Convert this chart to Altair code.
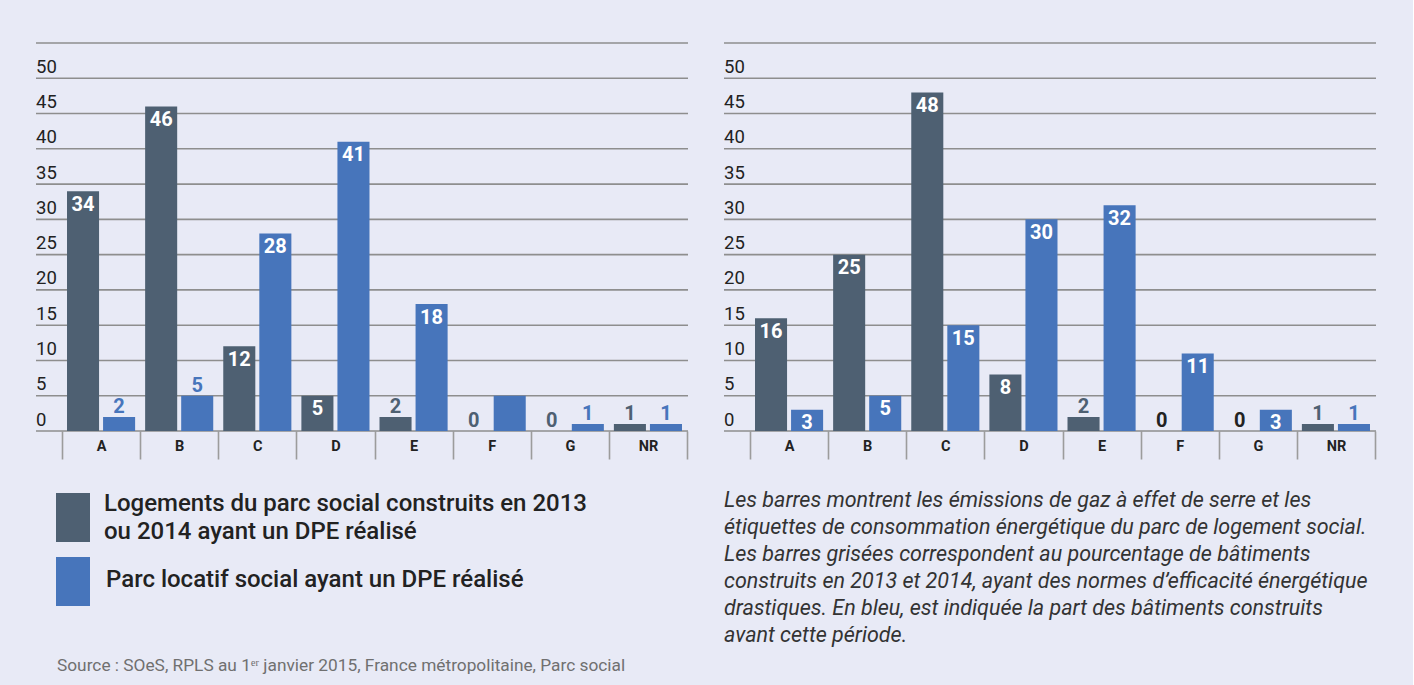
import altair as alt
import pandas as pd

# ---------------- data ----------------
categories = ["A", "B", "C", "D", "E", "F", "G", "NR"]
series_keys = ["g", "b"]
legend_grey = "Logements du parc social construits en 2013\nou 2014 ayant un DPE réalisé"
legend_blue = "Parc locatif social ayant un DPE réalisé"

left_grey = [34, 46, 12, 5, 2, 0, 0, 1]
left_blue = [2, 5, 28, 41, 18, 5, 1, 1]
right_grey = [16, 25, 48, 8, 2, 0, 0, 1]
right_blue = [3, 5, 15, 30, 32, 11, 3, 1]

grid_values = [0, 5, 10, 15, 20, 25, 30, 35, 40, 45, 50, 55]
y_label_values = [0, 5, 10, 15, 20, 25, 30, 35, 40, 45, 50]

source_text = "Source : SOeS, RPLS au 1ᵉʳ janvier 2015, France métropolitaine, Parc social"
note_text = ("Les barres montrent les émissions de gaz à effet de serre et les\n"
             "étiquettes de consommation énergétique du parc de logement social.\n"
             "Les barres grisées correspondent au pourcentage de bâtiments\n"
             "construits en 2013 et 2014, ayant des normes d’efficacité énergétique\n"
             "drastiques. En bleu, est indiquée la part des bâtiments construits\n"
             "avant cette période.")

# label placement per bar (styling): in = white inside, out = above, dark = above in black, none
left_grey_pos = ["in", "in", "in", "in", "out", "out", "out", "out"]
left_blue_pos = ["out", "out", "in", "in", "in", "none", "out", "out"]
right_grey_pos = ["in", "in", "in", "in", "out", "dark", "dark", "out"]
right_blue_pos = ["in", "in", "in", "in", "in", "in", "in", "out"]

# ---------------- style ----------------
GREY = "#4E6072"
BLUE = "#4775BB"
BG = "#E8EAF6"
GRID = "#8E8E8E"
TXT = "#222222"
FONT = "Roboto"
W, H = 625, 388
Y_SCALE = alt.Scale(domain=[0, 55], nice=False, zero=True)


def build_frame(grey, blue, gpos, bpos):
    rows = []
    for i, c in enumerate(categories):
        for key, vals, pos, col in (("g", grey, gpos, GREY), ("b", blue, bpos, BLUE)):
            p = pos[i]
            lc = "#FFFFFF" if p == "in" else (TXT if p == "dark" else col)
            rows.append({"cat": c, "s": key, "v": vals[i], "pos": p, "lc": lc})
    return pd.DataFrame(rows)


grid_df = pd.DataFrame({"t": grid_values})
ylab_df = pd.DataFrame({"t": y_label_values})


def panel(df, extras):
    base = alt.Chart(df)
    x = alt.X("cat:N", sort=categories,
              scale=alt.Scale(paddingInner=0, paddingOuter=0),
              axis=alt.Axis(title=None, domain=False, grid=False, tickBand="extent",
                            tickSize=28, tickColor="#9C9C9C", tickWidth=1.6,
                            labelFontSize=14.5, labelFontWeight="bold", labelColor=TXT,
                            labelFont=FONT, labelPadding=-13, labelBaseline="middle",
                            labelAngle=0))
    y = alt.Y("v:Q", scale=Y_SCALE, axis=None)
    xoff = alt.XOffset("s:N", sort=series_keys,
                       scale=alt.Scale(paddingInner=0.111, paddingOuter=0.139))

    grid = alt.Chart(grid_df).mark_rule(color=GRID, strokeWidth=1.6).encode(
        y=alt.Y("t:Q", scale=Y_SCALE, axis=None), x=alt.value(-26), x2=alt.value(W + 1))
    ylabels = alt.Chart(ylab_df).mark_text(
        font=FONT, fontSize=18.5, color=TXT, align="left", baseline="alphabetic",
        dy=-5.5).encode(y=alt.Y("t:Q", scale=Y_SCALE, axis=None), x=alt.value(-26),
                        text="t:Q")
    bars = base.mark_bar().encode(
        x=x, xOffset=xoff, y=y,
        color=alt.Color("s:N", scale=alt.Scale(domain=series_keys, range=[GREY, BLUE]),
                        legend=None))
    lab_in = base.transform_filter("datum.pos == 'in'").mark_text(
        font=FONT, fontSize=20, fontWeight="bold", baseline="alphabetic", dy=19.5,
        align="center").encode(x=x, xOffset=xoff, y=y, text="v:Q",
                               color=alt.Color("lc:N", scale=None))
    lab_out = base.transform_filter("datum.pos == 'out' || datum.pos == 'dark'").mark_text(
        font=FONT, fontSize=20, fontWeight="bold", baseline="alphabetic", dy=-4,
        align="center").encode(x=x, xOffset=xoff, y=y, text="v:Q",
                               color=alt.Color("lc:N", scale=None))
    return alt.layer(grid, ylabels, bars, lab_in, lab_out, *extras).properties(
        width=W, height=H)


one = pd.DataFrame({"k": [0]})

leg_grey_box = alt.Chart(one).mark_rect(color=GREY).encode(
    x=alt.value(-6), x2=alt.value(28), y=alt.value(450), y2=alt.value(499))
leg_blue_box = alt.Chart(one).mark_rect(color=BLUE).encode(
    x=alt.value(-6), x2=alt.value(28), y=alt.value(514), y2=alt.value(563))
leg_grey_txt = alt.Chart(one).mark_text(
    text=legend_grey, lineBreak="\n", lineHeight=28, font=FONT, fontSize=24,
    fontWeight=500, color=TXT, align="left", baseline="alphabetic").encode(
    x=alt.value(42), y=alt.value(468))
leg_blue_txt = alt.Chart(one).mark_text(
    text=legend_blue, font=FONT, fontSize=24, fontWeight=500, color=TXT,
    align="left", baseline="alphabetic").encode(x=alt.value(44), y=alt.value(544))
source = alt.Chart(one).mark_text(
    text=source_text, font=FONT, fontSize=17.3, color="#707070", align="left",
    baseline="alphabetic").encode(x=alt.value(-5), y=alt.value(628))

note = alt.Chart(one).mark_text(
    text=note_text, lineBreak="\n", lineHeight=27, font=FONT, fontSize=21.5,
    fontStyle="italic", color="#333333", align="left", baseline="alphabetic").encode(
    x=alt.value(-26), y=alt.value(464))

left = panel(build_frame(left_grey, left_blue, left_grey_pos, left_blue_pos),
             [leg_grey_box, leg_blue_box, leg_grey_txt, leg_blue_txt, source])
right = panel(build_frame(right_grey, right_blue, right_grey_pos, right_blue_pos), [note])

chart = alt.hconcat(left, right, spacing=34).properties(
    padding={"left": 35, "top": 42, "right": 36, "bottom": 12},
    background=BG,
).configure(font=FONT).configure_view(strokeWidth=0, stroke="transparent")

chart.save("out.html", embed_options={"renderer": "svg", "actions": False})
